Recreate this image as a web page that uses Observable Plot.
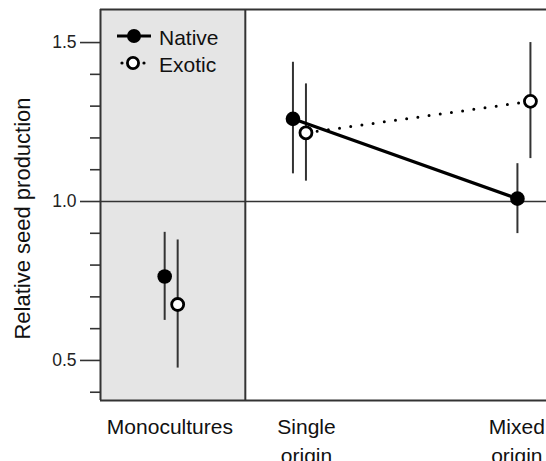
<!DOCTYPE html>
<html><head><meta charset="utf-8">
<script src="https://cdn.jsdelivr.net/npm/d3@7"></script>
<script src="https://cdn.jsdelivr.net/npm/@observablehq/plot@0.6"></script>
<style>
body{margin:0;background:#fff}
#chart svg{display:block}
</style>
</head><body><div id="chart"></div>
<script>
// ---- data ----
const groups = ["Monocultures", "Single origin", "Mixed origin"];
const groupPos = [1, 2, 3.75];
const labelPos = [0.99, 2.055, 3.695];
const xLabels = ["Monocultures", "Single\norigin", "Mixed\norigin"];
const connectedGroups = ["Single origin", "Mixed origin"];
const nativeMean = [0.764, 1.260, 1.009];
const nativeLow  = [0.626, 1.087, 0.899];
const nativeHigh = [0.903, 1.438, 1.119];
const exoticMean = [0.676, 1.216, 1.315];
const exoticLow  = [0.476, 1.064, 1.135];
const exoticHigh = [0.879, 1.370, 1.500];
const yMajorTicks = [0.5, 1.0, 1.5];
const yMinorTicks = [0.4, 0.6, 0.7, 0.8, 0.9, 1.1, 1.2, 1.3, 1.4];
const referenceLevel = 1.0;
const xDomain = [0.449, 3.926];
const yDomain = [0.374, 1.604];
const panelEdge = 1.578;
const yLabel = "Relative seed production";
const seriesNames = ["Native", "Exotic"];

const rows = (name, mean, lo, hi) => groups.map((g, i) => ({group: g, pos: groupPos[i], origin: name, mean: mean[i], lo: lo[i], hi: hi[i]}));
const nativeRows = rows("Native", nativeMean, nativeLow, nativeHigh);
const exoticRows = rows("Exotic", exoticMean, exoticLow, exoticHigh);
const labelRows = xLabels.map((t, i) => ({label: t, pos: labelPos[i]}));

const ink = "#1a1a1a";
const axisInk = "#333";
const font = "'Liberation Sans', Arial, Helvetica, sans-serif";

const plot = Plot.plot({
  width: 546,
  height: 461,
  marginLeft: 100,
  marginRight: 0,
  marginTop: 9,
  marginBottom: 61,
  style: {fontFamily: font, fontSize: "17px", color: ink, background: "#fff", overflow: "hidden"},
  x: {domain: xDomain, axis: null},
  y: {domain: yDomain, axis: null},
  marks: [
    Plot.rectY([{x1: xDomain[0], x2: panelEdge}], {x1: "x1", x2: "x2", y1: yDomain[0], y2: yDomain[1], fill: "#e5e5e5"}),
    Plot.ruleY([referenceLevel], {stroke: axisInk, strokeWidth: 1.6}),
    Plot.ruleY([yDomain[0], yDomain[1]], {stroke: axisInk, strokeWidth: 2}),
    Plot.ruleX([xDomain[0], panelEdge], {stroke: axisInk, strokeWidth: 2}),
    Plot.axisY({ticks: yMinorTicks, tickSize: 10, text: null, label: null, stroke: axisInk, strokeWidth: 1.6}),
    Plot.axisY({ticks: yMajorTicks, tickSize: 20, text: null, label: null, stroke: axisInk, strokeWidth: 1.6}),
    Plot.text(yMajorTicks, {y: d => d, text: d => d3.format(".1f")(d), frameAnchor: "left", textAnchor: "end", dx: -24, fontSize: 17.5, fill: "#222"}),
    Plot.text([yLabel], {frameAnchor: "left", textAnchor: "middle", rotate: -90, dx: -78, dy: 13.5, fontSize: 22, fill: "#111"}),
    Plot.text(labelRows, {x: "pos", text: "label", frameAnchor: "bottom", lineAnchor: "top", dy: 14, fontSize: 21, lineHeight: 1.34, fill: "#111"}),
    // error bars
    Plot.ruleX(nativeRows, {x: "pos", y1: "lo", y2: "hi", dx: -6.5, stroke: "#333", strokeWidth: 2}),
    Plot.ruleX(exoticRows, {x: "pos", y1: "lo", y2: "hi", dx: 6.5, stroke: "#333", strokeWidth: 2}),
    // connecting lines
    Plot.line(nativeRows.filter(d => connectedGroups.includes(d.group)), {x: "pos", y: "mean", dx: -6.5, stroke: "#000", strokeWidth: 3.2}),
    Plot.line(exoticRows.filter(d => connectedGroups.includes(d.group)), {x: "pos", y: "mean", dx: 6.5, stroke: "#000", strokeWidth: 3, strokeDasharray: "0 11.3", strokeLinecap: "round"}),
    // points
    Plot.dot(nativeRows, {x: "pos", y: "mean", dx: -6.5, r: 7.3, fill: "#000", stroke: "none"}),
    Plot.dot(exoticRows, {x: "pos", y: "mean", dx: 6.5, r: 6, fill: "#fff", stroke: "#000", strokeWidth: 2.8})
  ]
});

// legend (inside the grey panel)
const svg = d3.select(plot);
const lg = svg.append("g").attr("font-family", font).attr("font-size", 21).attr("fill", "#111").attr("text-anchor", "start");
lg.append("line").attr("x1", 117).attr("x2", 151).attr("y1", 36).attr("y2", 36).attr("stroke", "#000").attr("stroke-width", 3.2);
lg.append("circle").attr("cx", 134).attr("cy", 36).attr("r", 7).attr("fill", "#000");
lg.append("text").attr("x", 159).attr("y", 44.5).text(seriesNames[0]);
[122, 144].forEach(cx => lg.append("circle").attr("cx", cx).attr("cy", 63).attr("r", 1.6).attr("fill", "#000"));
lg.append("circle").attr("cx", 133).attr("cy", 63).attr("r", 5.6).attr("fill", "#fff").attr("stroke", "#000").attr("stroke-width", 2.8);
lg.append("text").attr("x", 159).attr("y", 72).text(seriesNames[1]);

document.getElementById("chart").appendChild(plot);
</script>
</body></html>
